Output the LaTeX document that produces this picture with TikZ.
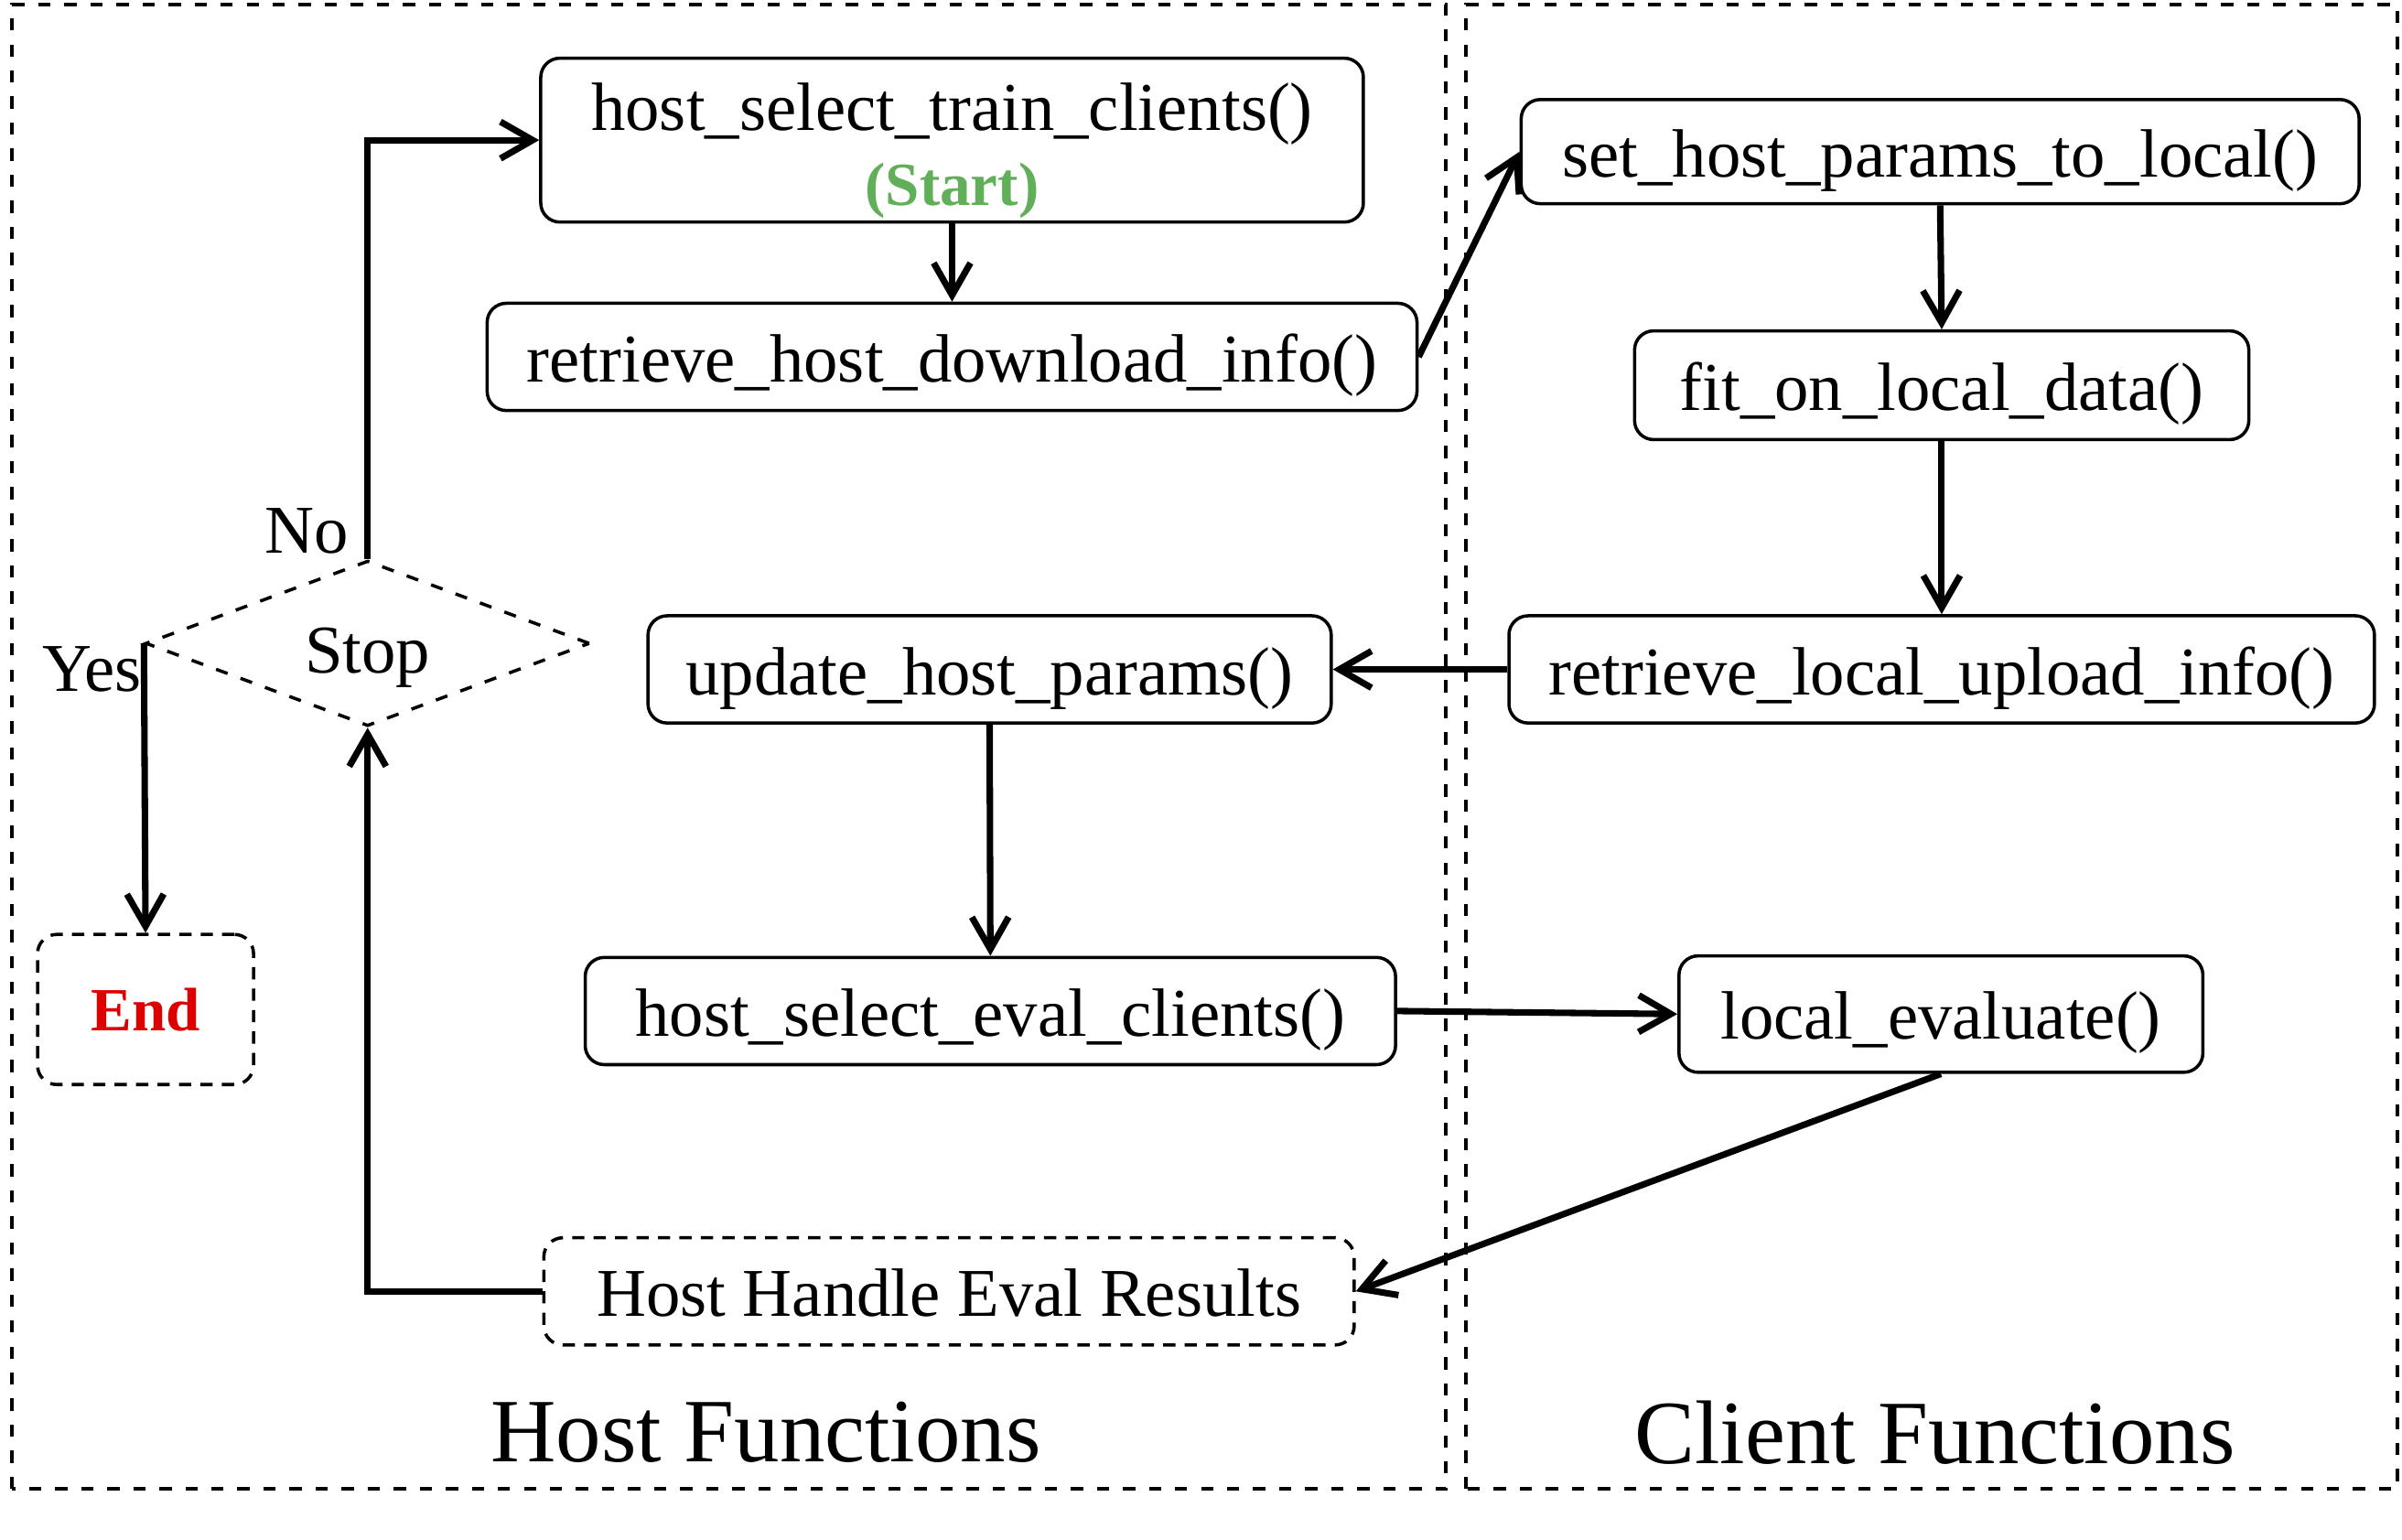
\documentclass[tikz,border=0pt]{standalone}
\usepackage{fontspec}
\setmainfont{Liberation Serif}
\usetikzlibrary{arrows.meta,shapes.geometric}
\definecolor{startgreen}{RGB}{98,175,90}
\definecolor{endred}{RGB}{221,0,0}
\tikzset{
	box/.style={draw, line width=1.2pt, rounded corners=2.5mm, minimum height=1.4cm, inner sep=0pt, font=\fontsize{25.4}{27}\selectfont},
	func/.style={box, text height=24.1pt, text depth=5.3pt},
	dashfunc/.style={func, dash pattern=on 1.6mm off 1.2mm},
	frame/.style={line width=1.3pt, dash pattern=on 1.6mm off 1.8mm},
	flow/.style={line width=2.4pt, -{Straight Barb[length=4.2mm,width=4.8mm]}},
	txt/.style={font=\fontsize{25.4}{27}\selectfont, inner sep=0pt},
	title/.style={font=\fontsize{33.6}{36}\selectfont, inner sep=0pt}
}
\begin{document}
\begin{tikzpicture}
	\useasboundingbox (0,0) rectangle (31.36,20.1);
	\draw[frame] (0.16,0.66) rectangle (18.88,20.04);
	\draw[frame] (19.14,0.66) rectangle (31.3,20.04);

	\node (train) at (12.43,18.27) [box, minimum width=10.74cm, minimum height=2.14cm, align=center] {\rule{0pt}{1.0em}host\_select\_train\_clients()\\[1pt]{\fontsize{22.8}{24}\selectfont\bfseries\color{startgreen}(Start)}};
	\node (download) at (12.43,15.44) [func, minimum width=12.14cm] {retrieve\_host\_download\_info()};
	\node (setparams) at (25.33,18.12) [func, minimum width=10.94cm, minimum height=1.36cm] {set\_host\_params\_to\_local()};
	\node (fit) at (25.35,15.07) [func, minimum width=8.02cm, minimum height=1.42cm] {fit\_on\_local\_data()};
	\node (upload) at (25.35,11.36) [func, minimum width=11.3cm] {retrieve\_local\_upload\_info()};
	\node (update) at (12.92,11.36) [func, minimum width=8.92cm] {update\_host\_params()};
	\node (evalsel) at (12.93,6.9) [func, minimum width=10.58cm] {host\_select\_eval\_clients()};
	\node (localeval) at (25.34,6.86) [func, minimum width=6.84cm, minimum height=1.52cm] {local\_evaluate()};
	\node (results) at (12.39,3.24) [dashfunc, minimum width=10.58cm] {Host Handle Eval Results};
	\node (stop) at (4.8,11.7) [diamond, draw, frame, line width=1.2pt, minimum width=5.8cm, minimum height=2.16cm, inner sep=0pt, font=\fontsize{25.4}{27}\selectfont] {\raisebox{-3.9mm}[0pt][0pt]{Stop}};
	\node (end) at (1.9,6.92) [box, dash pattern=on 1.6mm off 1.2mm, minimum width=2.82cm, minimum height=1.96cm, font=\fontsize{22.8}{24}\selectfont\bfseries, text=endred] {End};

	\node (no) at (4.0,13.16) [txt] {No};
	\node (yes) at (1.2,11.36) [txt] {Yes};
	\node (hostlabel) at (10.0,1.4) [title] {Host Functions};
	\node (clientlabel) at (25.26,1.4) [title] {Client Functions};

	\draw[flow] (stop.north) |- (train.west);
	\draw[flow] (train.south) -- (download.north);
	\draw[flow] (download.east) -- (setparams.west);
	\draw[flow] (setparams.south) -- (fit.north);
	\draw[flow] (fit.south) -- (upload.north);
	\draw[flow] (upload.west) -- (update.east);
	\draw[flow] (update.south) -- (evalsel.north);
	\draw[flow] (evalsel.east) -- (localeval.west);
	\draw[flow] (localeval.south) -- (results.east);
	\draw[flow] (results.west) -| (stop.south);
	\draw[flow] (stop.west) -- (end.north);
\end{tikzpicture}
\end{document}
